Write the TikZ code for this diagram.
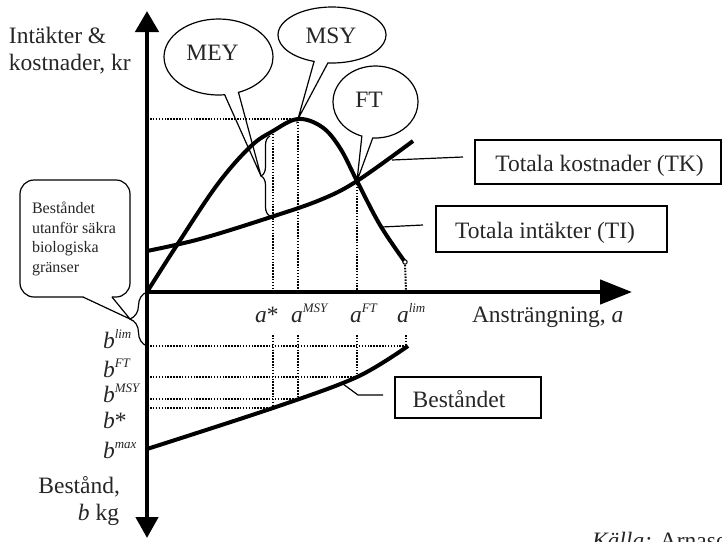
\documentclass[tikz,border=0pt]{standalone}
\usepackage{fontspec}
\setmainfont{Liberation Serif}
\usetikzlibrary{arrows.meta,shapes.callouts,decorations.pathreplacing}
\newcommand\supx[1]{\raisebox{10pt}{\fontsize{13}{13}\selectfont\itshape #1}}
\begin{document}
\begin{tikzpicture}[x=1pt,y=-1pt,
  every node/.style={inner sep=0pt,outer sep=0pt},
  txt/.style={text=black!85,font=\fontsize{23.5}{26}\selectfont},
  smalltxt/.style={text=black!85,font=\fontsize{16}{19.5}\selectfont},
  axis/.style={line width=4.5pt},
  curve/.style={line width=4pt},
  dots/.style={line width=2pt,dash pattern=on 1.5pt off 1.4pt},
  thinline/.style={line width=1.2pt},
  bubble/.style={ellipse callout,draw,thinline,callout pointer arc=15},
  boxstyle/.style={draw,thinline}]
\useasboundingbox (0,0) rectangle (722,541);

% key points
\coordinate (O) at (147,292);
\coordinate (Ytop) at (147,11);
\coordinate (Ybot) at (147,538);
\coordinate (Xstart) at (145,292);
\coordinate (Xend) at (632,292);
\coordinate (Pk) at (298,119);
\coordinate (FTp) at (357,181);
\coordinate (TIend) at (405,262);
\coordinate (MEYtip) at (261,176);
\coordinate (BIOtip) at (130,319);

% callout bubbles
\node[bubble,minimum width=109pt,minimum height=76pt,callout absolute pointer={(MEYtip)}] (meyb) at (218.5,57) {};
\node[bubble,minimum width=108pt,minimum height=56pt,callout absolute pointer={(Pk)}] (msyb) at (332,35) {};
\node[bubble,minimum width=85pt,minimum height=72pt,callout absolute pointer={(FTp)}] (ftb) at (375.5,102) {};
\node[txt,anchor=base] (mey) at (212.5,60) {MEY};
\node[txt,anchor=base] (msy) at (331,43) {MSY};
\node[txt,anchor=base] (ft) at (369,107) {FT};

% left rounded callout
\node[boxstyle,rounded corners=14pt,minimum width=110pt,minimum height=117pt] (biob) at (75,238.5) {};
\fill[white] (84,295.4) -- (111,295.4) -- (112,297) -- (BIOtip) -- (83,297) -- cycle;
\draw[thinline,line join=miter] (83,297) -- (BIOtip) -- (112,297);
\node[smalltxt,anchor=north west,align=left] (bio) at (32,202) {Beståndet\\utanför säkra\\biologiska\\gränser};

% braces
\draw[thinline,decorate,decoration={brace,amplitude=9pt}] (270,216) -- (270,136);
\draw[thinline,decorate,decoration={brace,amplitude=17pt}] (147,346) -- (147,292);

% dotted guide lines
\draw[dots] (150,119) -- (Pk);
\draw[dots] (273,131) -- (273,292);
\draw[dots] (Pk) -- (298,292);
\draw[dots] (FTp) -- (357,292);
\draw[dots] (TIend) -- (406,292);
\draw[dots] (273,335) -- (273,408);
\draw[dots] (298,335) -- (298,399);
\draw[dots] (357,335) -- (357,377);
\draw[dots] (406,335) -- (406,346);
\draw[dots] (150,346) -- (406,346);
\draw[dots] (150,377) -- (357,377);
\draw[dots] (150,399) -- (298,399);
\draw[dots] (150,408) -- (273,408);

% axes
\draw[axis,{Triangle[width=23pt,length=21pt]}-{Triangle[width=22pt,length=21pt]}] (Ytop) -- (Ybot);
\draw[axis,-{Triangle[width=24pt,length=32pt]}] (Xstart) -- (Xend);

% curves
\draw[curve] plot[smooth,tension=0.6] coordinates {(147,292) (177,245) (217,185) (250,147) (273,131) (298,119) (322,127) (340,148) (357,181) (380,225) (405,262)};
\draw[curve] plot[smooth,tension=0.6] coordinates {(147,251) (200,239) (268,218) (320,200) (357,181) (413,141)};
\draw[curve] plot[smooth,tension=0.55] coordinates {(147,449) (273,408) (357,377) (408,346)};
\draw[line width=1pt,fill=white] (TIend) circle (2.2pt);

% boxes and connectors
\node[boxstyle,minimum width=246pt,minimum height=44pt] (tkb) at (598,162) {};
\node[txt,anchor=base] (tk) at (599.5,171) {Totala kostnader (TK)};
\node[boxstyle,minimum width=231pt,minimum height=46pt] (tib) at (551.5,229) {};
\node[txt,anchor=base] (ti) at (545,238) {Totala intäkter (TI)};
\node[boxstyle,minimum width=146pt,minimum height=41pt] (bb) at (468,397.5) {};
\node[txt,anchor=base] (bt) at (459,407) {Beståndet};

\coordinate (tkc1) at (463,157);
\coordinate (tkc2) at (392,160);
\coordinate (tic1) at (423,225);
\coordinate (tic2) at (382,227);
\coordinate (bc1) at (383,395);
\coordinate (bc2) at (358,395);
\coordinate (bc3) at (343,384);
\draw[thinline] (tkc1) -- (tkc2);
\draw[thinline] (tic1) -- (tic2);
\draw[thinline] (bc1) -- (bc2) -- (bc3);

% axis labels
\node[txt,anchor=base west] (yl1) at (9,43) {Intäkter \&};
\node[txt,anchor=base west] (yl2) at (9,70) {kostnader, kr};
\node[txt,anchor=base east] (bl1) at (120,493) {Bestånd,};
\node[txt,anchor=base east] (bl2) at (119,520) {\textit{b} kg};
\node[txt,anchor=base west] (xl) at (472,322) {Ansträngning, \textit{a}};

\node[txt,anchor=base west] (as) at (255,322) {\textit{a}*};
\node[txt,anchor=base west] (amsy) at (291,322) {\textit{a}\supx{MSY}};
\node[txt,anchor=base west] (aft) at (350,322) {\textit{a}\supx{FT}};
\node[txt,anchor=base west] (alim) at (397,322) {\textit{a}\supx{lim}};

\node[txt,anchor=base west] (blim) at (103,348) {\textit{b}\supx{lim}};
\node[txt,anchor=base west] (bft) at (103,377) {\textit{b}\supx{FT}};
\node[txt,anchor=base west] (bmsy) at (103,402) {\textit{b}\supx{MSY}};
\node[txt,anchor=base west] (bs) at (103,428) {\textit{b}*};
\node[txt,anchor=base west] (bmax) at (103,458) {\textit{b}\supx{max}};

\node[txt,anchor=base west] (src) at (592,548) {\textit{Källa:} Arnason};
\end{tikzpicture}
\end{document}
